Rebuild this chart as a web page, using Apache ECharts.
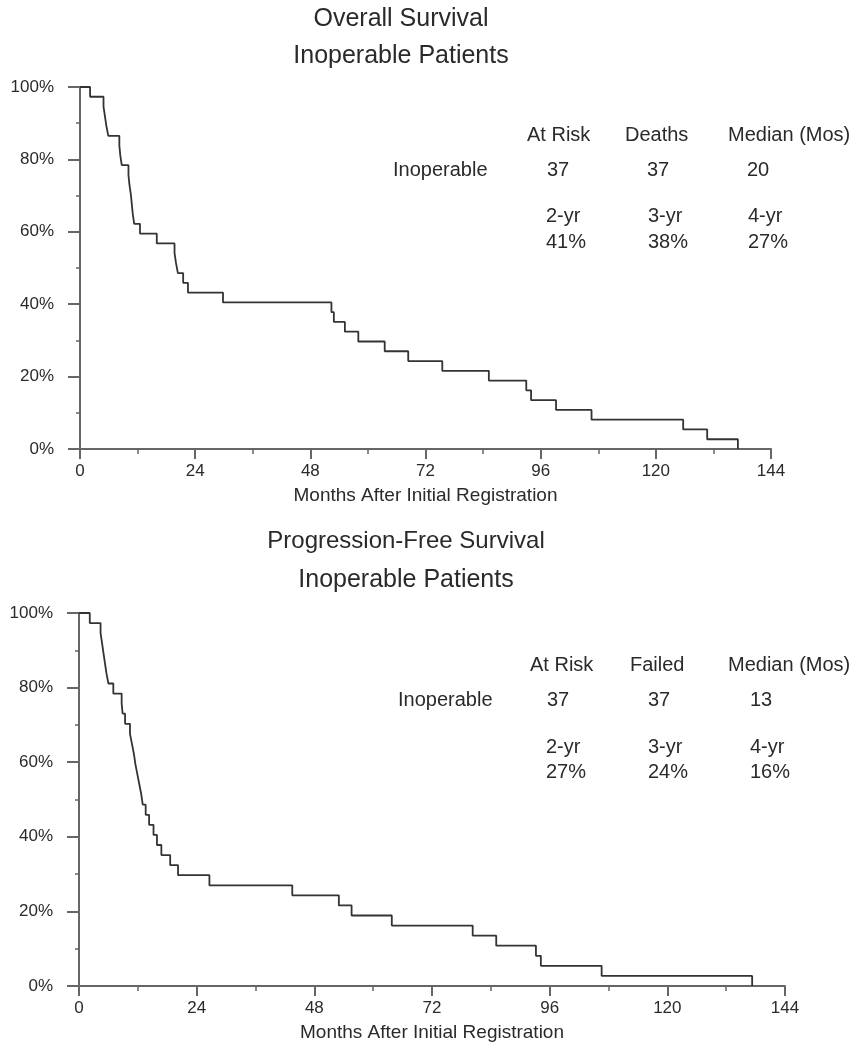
<!DOCTYPE html>
<html><head><meta charset="utf-8">
<script src="https://cdn.jsdelivr.net/npm/echarts@6/dist/echarts.min.js"></script>
<style>html,body{margin:0;padding:0;background:#fff}#c{width:860px;height:1050px}</style>
</head><body><div id="c"></div>
<script>
// ---- Data ----
const osMonths = [0, 2.1, 4.9, 5.2, 5.5, 5.9, 8.2, 8.4, 8.7, 10.1, 10.3, 10.6, 10.8, 11.0, 11.3, 12.5, 16.0, 19.7, 20.0, 20.4, 21.5, 22.5, 29.8, 52.4, 52.9, 55.2, 58.0, 63.5, 68.4, 75.5, 85.2, 93.0, 94.0, 99.2, 106.6, 125.7, 130.7, 137.1];
const osSurvival = [100, 97.3, 94.6, 91.9, 89.2, 86.5, 83.8, 81.1, 78.4, 75.7, 73.0, 70.3, 67.6, 64.9, 62.2, 59.5, 56.8, 54.1, 51.4, 48.6, 45.9, 43.2, 40.5, 37.8, 35.1, 32.4, 29.7, 27.0, 24.3, 21.6, 18.9, 16.2, 13.5, 10.8, 8.1, 5.4, 2.7, 0];
const pfsMonths = [0, 2.2, 4.4, 4.7, 5.0, 5.3, 5.6, 6.0, 7.0, 8.7, 8.9, 9.4, 10.4, 10.8, 11.2, 11.5, 11.9, 12.3, 12.7, 13.0, 13.6, 14.3, 15.2, 15.9, 16.8, 18.6, 20.2, 26.6, 43.5, 53.0, 55.6, 63.8, 80.3, 85.1, 93.2, 94.2, 106.6, 137.3];
const pfsSurvival = [100, 97.3, 94.6, 91.9, 89.2, 86.5, 83.8, 81.1, 78.4, 75.7, 73.0, 70.3, 67.6, 64.9, 62.2, 59.5, 56.8, 54.1, 51.4, 48.6, 45.9, 43.2, 40.5, 37.8, 35.1, 32.4, 29.7, 27.0, 24.3, 21.6, 18.9, 16.2, 13.5, 10.8, 8.1, 5.4, 2.7, 0];

const osTitle = ['Overall Survival', 'Inoperable Patients'];
const pfsTitle = ['Progression-Free Survival', 'Inoperable Patients'];
const xAxisName = 'Months After Initial Registration';
const osHeaders = ['At Risk', 'Deaths', 'Median (Mos)'];
const pfsHeaders = ['At Risk', 'Failed', 'Median (Mos)'];
const groupName = 'Inoperable';
const osCounts = ['37', '37', '20'];
const pfsCounts = ['37', '37', '13'];
const yearLabels = ['2-yr', '3-yr', '4-yr'];
const osRates = ['41%', '38%', '27%'];
const pfsRates = ['27%', '24%', '16%'];

// ---- Chart ----
const FONT = '"Liberation Sans", Arial, sans-serif';
const INK = '#2a2a2a';
const AX = '#666';
const chart = echarts.init(document.getElementById('c'), null, {renderer: 'canvas'});

function pairs(xs, ys) { return xs.map((x, i) => [x, ys[i]]); }

function xAx(gi) {
  return {
    type: 'value', gridIndex: gi, min: 0, max: 144, interval: 24,
    name: xAxisName, nameLocation: 'middle', nameGap: 37,
    nameTextStyle: {fontFamily: FONT, fontSize: 19, color: INK},
    axisLine: {show: true, lineStyle: {color: AX, width: 2}},
    axisTick: {show: true, length: 10, lineStyle: {color: AX, width: 2}},
    minorTick: {show: true, splitNumber: 2, length: 5, lineStyle: {color: AX, width: 1.5}},
    axisLabel: {fontFamily: FONT, fontSize: 17, color: INK, margin: 14},
    splitLine: {show: false}
  };
}
function yAx(gi) {
  return {
    type: 'value', gridIndex: gi, min: 0, max: 100, interval: 20,
    axisLine: {show: true, lineStyle: {color: AX, width: 2}},
    axisTick: {show: true, length: 12, lineStyle: {color: AX, width: 2}},
    minorTick: {show: true, splitNumber: 2, length: 4, lineStyle: {color: AX, width: 1.5}},
    axisLabel: {fontFamily: FONT, fontSize: 17, color: INK, margin: 26, formatter: '{value}%'},
    splitLine: {show: false}
  };
}

function txt(s, x, y, size, align) {
  return {type: 'text', x: x, y: y, silent: true,
    style: {text: s, fill: INK, font: size + 'px ' + FONT, align: align || 'left', verticalAlign: 'middle'}};
}

const graphics = [];
graphics.push(txt(osTitle[0], 401, 19, 25, 'center'));
graphics.push(txt(osTitle[1], 401, 56, 25, 'center'));
graphics.push(txt(pfsTitle[0], 406, 541, 24, 'center'));
graphics.push(txt(pfsTitle[1], 406, 580, 25, 'center'));

function table(headers, hx, hy, gx, gy, counts, cx, years, yx, yy, rates, ry) {
  headers.forEach((h, i) => graphics.push(txt(h, hx[i], hy, 20)));
  graphics.push(txt(groupName, gx, gy, 20));
  counts.forEach((c, i) => graphics.push(txt(c, cx[i], gy, 20)));
  years.forEach((c, i) => graphics.push(txt(c, yx[i], yy, 20)));
  rates.forEach((c, i) => graphics.push(txt(c, yx[i], ry, 20)));
}
table(osHeaders, [527, 625, 728], 135, 393, 170, osCounts, [547, 647, 747], yearLabels, [546, 648, 748], 216, osRates, 242);
table(pfsHeaders, [530, 630, 728], 665, 398, 700, pfsCounts, [547, 648, 750], yearLabels, [546, 648, 750], 747, pfsRates, 772);

chart.setOption({
  backgroundColor: '#fff',
  animation: false,
  grid: [
    {left: 80, top: 87, width: 691, height: 362},
    {left: 79, top: 613, width: 706, height: 373}
  ],
  xAxis: [xAx(0), xAx(1)],
  yAxis: [yAx(0), yAx(1)],
  series: [
    {type: 'line', xAxisIndex: 0, yAxisIndex: 0, step: 'end', symbol: 'none',
     lineStyle: {color: '#333', width: 1.8}, data: pairs(osMonths, osSurvival)},
    {type: 'line', xAxisIndex: 1, yAxisIndex: 1, step: 'end', symbol: 'none',
     lineStyle: {color: '#333', width: 1.8}, data: pairs(pfsMonths, pfsSurvival)}
  ],
  graphic: graphics
});
</script></body></html>
